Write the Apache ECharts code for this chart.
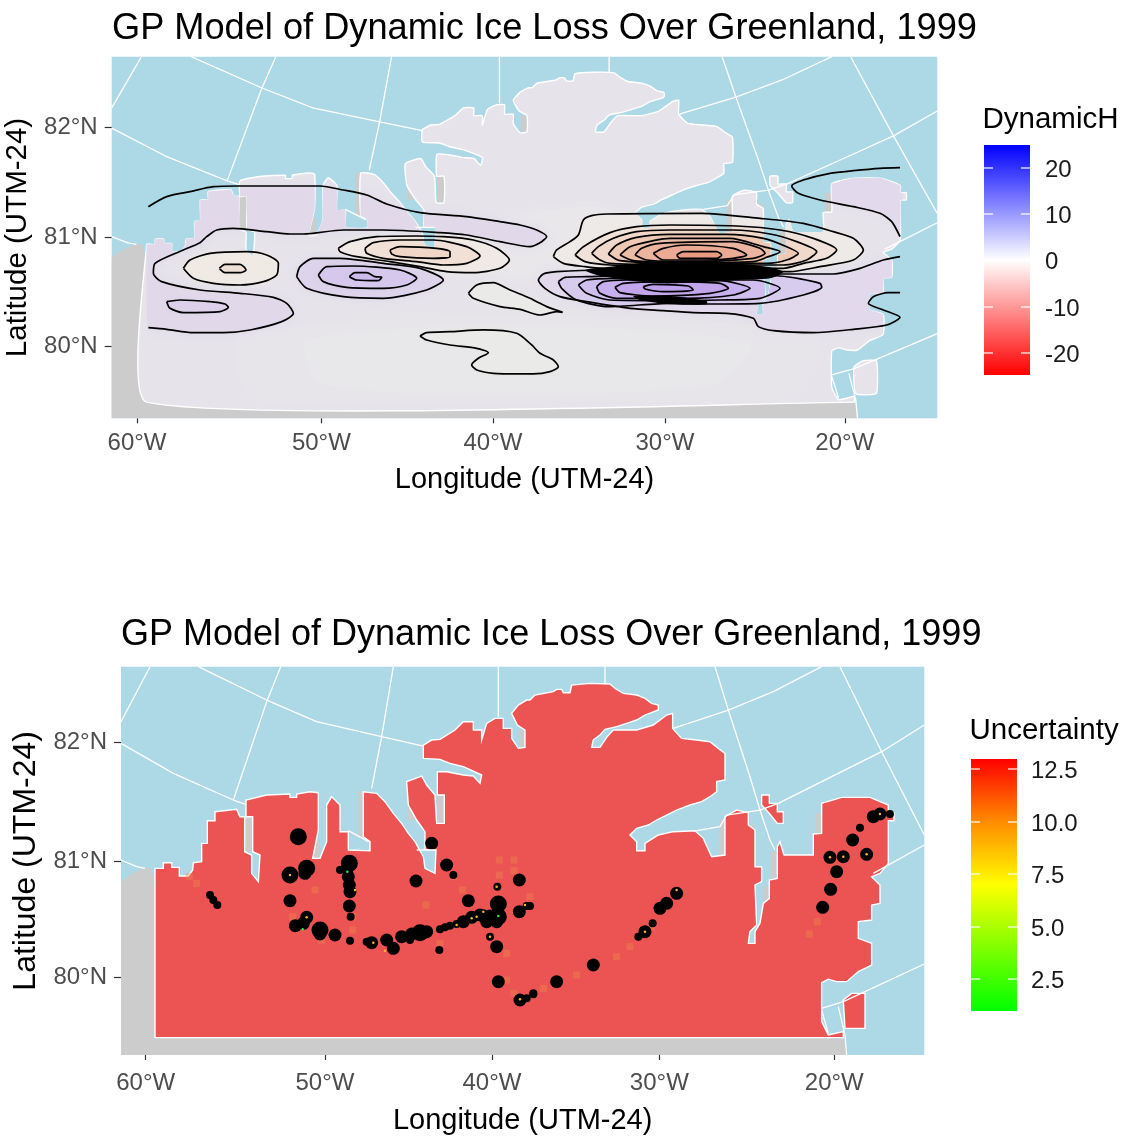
<!DOCTYPE html>
<html><head><meta charset="utf-8">
<style>html,body{margin:0;padding:0;background:#fff}#c{width:1124px;height:1136px}</style>
<script src="https://cdn.jsdelivr.net/npm/echarts@6/dist/echarts.min.js"></script>
</head><body><div id="c"></div>
<script>
// ---------- values (projected map units) ----------
const east = pts => pts.map(([x, y]) => [x + 1260, y]);
const close = pts => pts.concat([pts[0]]);

const titleText = 'GP Model of Dynamic Ice Loss Over Greenland, 1999';
const xTickValues = [107, 645, 1146, 1648, 2173];
const xTickLabels = ['60°W', '50°W', '40°W', '30°W', '20°W'];
const yTickValues = [248, 603, 952];
const yTickLabels = ['82°N', '81°N', '80°N'];
const dynamicLabels = ['20', '10', '0', '-10', '-20'];
const uncertaintyLabels = ['12.5', '10.0', '7.5', '5.0', '2.5'];

const landWest = [[135,1133],[135,625],[160,625],[160,608],[185,608],[185,622],[208,622],[208,648],[235,648],[248,630],[250,608],[275,605],[275,550],[292,550],[292,482],[315,482],[315,455],[380,448],[390,470],[404,470],[404,575],[425,585],[425,640],[445,665],[450,585],[428,575],[428,470],[408,470],[408,420],[470,405],[540,402],[540,412],[560,412],[560,402],[600,395],[625,398],[625,510],[608,595],[630,595],[650,545],[650,435],[665,410],[690,435],[690,515],[715,515],[715,570],[780,572],[780,545],[760,530],[760,395],[800,400],[825,425],[850,460],[875,490],[895,520],[915,545],[940,590],[945,625],[975,640],[978,570],[945,568],[945,515],[920,480],[895,435],[890,365],[935,348],[950,375],[975,405],[980,490],[1003,490],[1003,405],[982,405],[982,335],[1010,335],[1060,345],[1090,348],[1110,370],[1115,345],[1060,320],[1020,310],[990,298],[940,295],[940,255],[965,240],[990,238],[1035,210],[1060,185],[1090,185],[1090,210],[1115,210],[1115,240],[1130,190],[1155,175],[1180,175],[1180,205],[1205,205],[1205,235],[1225,265],[1245,262],[1245,210],[1222,195],[1205,160],[1225,135],[1250,120]];
const landEast = [[0,120],[15,105],[70,95],[80,88],[95,88],[100,98],[120,98],[125,75],[180,70],[240,72],[255,85],[280,100],[320,105],[345,115],[365,130],[385,135],[385,150],[345,165],[320,180],[290,190],[260,200],[225,208],[210,225],[190,240],[185,262],[210,262],[230,232],[250,210],[320,210],[370,195],[410,165],[428,160],[428,205],[455,235],[500,240],[540,245],[565,265],[585,280],[585,360],[560,365],[560,395],[540,410],[515,425],[480,435],[440,450],[410,465],[380,480],[355,495],[320,505],[300,525],[320,545],[320,572],[345,572],[345,550],[385,525],[430,515],[495,512],[520,535],[545,590],[585,585],[585,470],[620,450],[655,458],[655,495],[675,510],[675,620],[695,620],[695,665],[675,675],[680,795],[660,815],[655,850],[675,850],[675,815],[690,790],[700,730],[718,715],[718,660],[742,655],[742,560],[750,545],[762,585],[850,585],[850,522],[875,520],[875,430],[935,412],[1020,412],[1075,435],[1075,458],[1092,458],[1092,482],[1075,482],[1075,610],[1050,640],[1025,650],[1050,675],[1050,730],[1025,735],[1025,780],[985,785],[985,835],[1025,850],[1025,915],[985,935],[950,965],[920,965],[895,958],[875,968],[875,1085],[895,1125],[940,1115],[940,1133]];
const landMain = landWest.concat(east(landEast));
const islandSouth = east([[940,1020],[965,1000],[1005,1000],[1005,1105],[945,1105]]);
const islandSliver = east([[695,405],[718,405],[718,430],[742,430],[742,455],[760,455],[760,490],[742,490],[718,460],[695,435]]);

const greyFrame = [[33,665],[60,645],[105,622],[125,628],[135,690],[135,1133],[2200,1133],[2212,1185],[33,1185]];
const greyStrips = [
  [[404,470],[428,470],[428,575],[404,575]], [[608,540],[628,540],[628,595],[608,595]],
  [[745,395],[760,395],[760,530],[745,530]], [[895,440],[915,440],[915,480],[895,480]],
  [[983,405],[1003,405],[1003,490],[983,490]], [[1228,210],[1245,210],[1245,262],[1228,262]],
  east([[855,460],[875,460],[875,520],[855,520]]), east([[568,480],[585,480],[585,585],[568,585]]),
  east([[722,575],[742,575],[742,655],[722,655]]), east([[700,680],[718,680],[718,740],[700,740]]),
  east([[655,495],[675,495],[675,540],[655,540]])
];

const graticule = [
  [[265,20],[470,120],[620,185],[815,230],[940,258]],
  east([[430,205],[595,150],[730,95],[875,20]]),
  [[33,250],[190,340],[370,420],[405,432]],
  east([[500,512],[570,500],[590,465],[690,450],[745,430],[935,335],[1055,275],[1183,195]]),
  [[33,600],[80,620],[105,625]],
  [[715,512],[775,545]], [[920,570],[975,570]],
  east([[1030,640],[1183,555]]),
  east([[875,1045],[940,1025],[1005,995],[1183,912]]),
  [[120,20],[33,185]],
  [[512,20],[470,125],[370,420]],
  [[850,20],[815,230],[785,385]],
  [[1165,20],[1165,170]],
  east([[225,20],[225,70]]),
  east([[555,20],[595,150],[660,350],[690,450],[720,540],[735,570]]),
  east([[930,20],[1055,275],[1183,525]]),
  east([[925,1040],[945,1125],[950,1185]]),
  east([[875,1050],[895,1120]])
];

// contours of the upper panel
const lineNorthWest = [[145,470],[200,440],[270,425],[340,410],[410,408],[520,408],[660,408],[730,420],[800,435],[860,462],[960,488],[1100,500],[1200,515],[1260,525],[1310,540],[1340,560],[1325,575],[1290,590],[1200,575],[1100,555],[1020,548],[850,540],[730,540],[610,552],[570,552],[500,545],[400,535],[350,540],[320,560],[300,578],[250,600],[165,640],[160,670],[185,695],[300,720],[420,730],[520,742],[560,760],[580,790],[545,815],[450,840],[370,848],[280,848],[200,838],[145,833]];
const lineEastBand = east([[1140,620],[1090,630],[1020,655],[940,672],[790,672],[500,660],[250,660],[110,665],[70,672],[55,690],[75,715],[120,740],[200,755],[330,775],[430,782],[520,788],[620,790],[700,805],[715,830],[760,842],[880,848],[1000,838],[1100,825],[1140,802],[1090,780],[1045,760],[1060,740],[1105,728],[1140,728]]);
const lineNorthEast = east([[1140,353],[1080,355],[1000,362],[930,370],[850,390],[815,408],[835,430],[900,450],[1000,470],[1080,490],[1115,515],[1140,560]]);
const ringWest1 = [[250,655],[270,630],[330,610],[440,605],[500,615],[535,640],[530,675],[490,695],[420,705],[340,700],[280,685]];
const ringWest2 = [[358,655],[375,643],[420,643],[438,660],[420,668],[375,668]];
const ringLowWest = [[200,755],[240,750],[330,755],[375,762],[385,772],[360,785],[250,788],[210,775]];
const ringMidA1 = [[715,595],[750,575],[830,560],[950,558],[1030,560],[1120,570],[1190,595],[1228,630],[1200,655],[1120,668],[1040,665],[960,650],[870,635],[770,620],[720,605]];
const ringMidA2 = [[795,595],[820,578],[900,570],[1000,570],[1100,590],[1140,618],[1100,640],[1030,645],[950,635],[850,625],[800,610]];
const ringMidA3 = [[870,600],[900,590],[1010,595],[1050,605],[1050,620],[1000,625],[900,620],[875,612]];
const ringMidB1 = [[590,680],[600,650],[640,625],[720,625],[850,640],[960,655],[1030,690],[980,720],[850,745],[730,740],[620,715]];
const ringMidB2 = [[655,675],[680,650],[760,648],[900,660],[950,685],[920,705],[850,715],[740,712],[670,695]];
const ringMidB3 = [[748,680],[765,668],[800,668],[825,680],[845,682],[835,692],[770,690]];
const ringPale1 = [[1105,730],[1130,705],[1180,698],[1230,720],[1290,745],[1310,755],[1340,770],[1388,787],[1370,785],[1320,795],[1260,778],[1200,770],[1120,745]];
const ringPale2 = [[960,858],[980,848],[1050,845],[1150,840],[1250,850],[1295,885],[1320,910],[1360,930],[1375,950],[1350,965],[1300,972],[1260,972],[1180,970],[1130,960],[1115,945],[1135,925],[1165,908],[1130,895],[1050,885],[980,870]];
const ringE0 = east([[100,620],[110,600],[150,575],[175,555],[190,510],[215,497],[260,492],[545,490],[720,505],[850,520],[940,545],[1000,565],[1030,600],[1000,630],[900,650],[810,665],[500,660],[250,655],[195,650],[130,640]]);
const ringE1 = east([[165,615],[190,590],[270,548],[350,530],[450,525],[650,528],[780,540],[880,565],[950,600],[920,625],[850,640],[790,655],[500,650],[270,645],[195,635]]);
const ringE2 = east([[215,610],[235,590],[280,565],[350,545],[450,540],[640,540],[750,552],[830,575],[890,605],[860,630],[790,645],[500,645],[270,640],[240,630]]);
const ringE3 = east([[265,612],[290,585],[350,562],[450,553],[620,553],[730,565],[800,590],[835,610],[800,630],[740,640],[500,640],[300,632]]);
const ringE4 = east([[300,615],[330,590],[400,572],[450,565],[630,565],[730,590],[780,605],[740,622],[700,635],[500,638],[340,632]]);
const ringE5 = east([[345,615],[365,595],[420,580],[640,575],[720,595],[735,610],[700,625],[500,635],[380,630]]);
const ringE6 = east([[400,610],[430,595],[500,585],[640,595],[680,615],[640,625],[560,630],[430,630]]);
const ringE7 = east([[470,615],[490,605],[590,605],[605,615],[590,625],[480,625]]);
const ringF1 = east([[115,695],[135,682],[200,680],[500,672],[780,678],[900,700],[905,712],[850,735],[720,760],[560,762],[450,760],[265,770],[170,750],[125,715]]);
const ringF2 = east([[175,705],[200,690],[280,685],[450,690],[700,690],[780,715],[720,745],[600,750],[450,752],[270,750],[200,730]]);
const ringF3 = east([[230,710],[250,695],[320,690],[600,692],[690,715],[640,735],[500,745],[290,745],[240,730]]);
const ringF4 = east([[285,712],[310,700],[440,695],[600,700],[625,715],[570,730],[400,738],[300,728]]);
const ringF5 = east([[370,710],[400,703],[505,708],[520,720],[430,725],[375,717]]);
const denseBand = east([[195,660],[270,650],[400,635],[500,632],[600,635],[740,650],[790,665],[750,685],[650,690],[540,697],[430,700],[320,690],[230,675]]);
const densePatch = east([[340,738],[450,738],[560,753],[560,763],[450,763],[360,750]]);
const neutralOuter = [[420,860],[1300,800],[2150,860],[2050,1060],[1200,1090],[460,1050]];
const neutralCore = [[620,870],[1300,830],[1950,880],[1850,1000],[1200,1030],[660,1000]];
const neutralInland = [[1000,560],[1500,470],[1700,600],[1300,680],[1020,640]];

// sample sites of the lower panel
const sitesHuge = [[540,645],[590,625],[565,530],[718,610],[630,810],[930,818],[1165,732],[1165,770]];
const sitesLarge = [[585,640],[540,722],[712,625],[715,650],[718,675],[720,695],[718,738],[630,822],[675,825],[830,840],[850,865],[905,822],[950,815],[965,550],[1010,615],[918,663],[1075,722],[1160,785],[1228,660],[1228,755],[1160,860],[1165,965],[1230,1020],[1340,965],[1450,915],[1605,815],[1650,745],[1670,730],[1700,700],[2138,742],[2162,688],[2180,635],[2160,592],[2200,590],[2270,583],[2228,540],[2290,470],[2310,462],[1140,768],[1110,765],[1085,772],[1060,785],[1130,785],[580,790],[556,797],[590,772],[785,848],[875,830]];
const sitesSmall = [[300,705],[310,720],[322,735],[690,630],[722,770],[720,842],[770,845],[900,840],[1120,760],[1040,792],[1020,797],[1005,802],[990,808],[1250,738],[1250,1015],[1140,830],[988,870],[1162,680],[1030,645],[1270,1000],[1260,738],[1270,1003],[1585,830],[1628,790],[2250,503],[2340,462]];
const sitesGlow = [[1168,600],[1212,600],[1212,632],[1058,690],[615,690],[948,735],[548,770],[728,810],[728,770],[990,850],[1168,645],[635,840],[1260,710],[238,650],[260,670],[1212,1000],[1190,880],[1400,945],[1520,890],[1560,860],[1625,800],[2122,785],[2098,822],[1300,985],[1030,650],[1190,960]];
const sitesHot = [[1100,770],[1085,775],[1040,795],[1120,755],[735,690],[825,872],[1140,830],[1160,680],[1245,735],[2310,462],[2200,590],[2160,592],[1605,815],[1700,690],[790,848],[590,772],[540,645],[2270,583],[1230,1018]];
const sitesLow = [[1165,768],[712,635],[578,808]];

// ---------- map units of the upper-panel crop to shared map units ----------
const toMap = pts => pts.map(([x, y]) => [33 + 0.973 * (x - 35), 20 + 1.0737 * (y - 20)]);

const zones = [
  [neutralOuter, '#E7E5EA', 30], [neutralCore, '#E8E7E9', 30], [neutralInland, '#E9E7EA', 22],
  [lineNorthWest, '#E1D9EA', 10], [lineEastBand, '#E2DAEC', 10], [lineNorthEast, '#E2DAEC', 6],
  [ringPale1, '#EAEAE9', 5], [ringPale2, '#EAEAE8', 5],
  [ringWest1, '#F0EAE4', 6], [ringWest2, '#EEE0D6', 3], [ringLowWest, '#DCD0EA', 5],
  [ringMidB1, '#DDD3EA', 6], [ringMidB2, '#D6C8EC', 5], [ringMidB3, '#CDBBEC', 3],
  [ringMidA1, '#F0EAE6', 6], [ringMidA2, '#F1E0D6', 5], [ringMidA3, '#F0D6C6', 3],
  [ringE0, '#EEEAE7', 5], [ringE1, '#F0E2DA', 3], [ringE2, '#F0D8CA', 3], [ringE3, '#EEC9B4', 3],
  [ringE4, '#ECBEA8', 3], [ringE5, '#EBB49E', 3], [ringE6, '#EAAA94', 3], [ringE7, '#E99B82', 2],
  [ringF1, '#D8CCEE', 4], [ringF2, '#D0BFEE', 3], [ringF3, '#C8AFEE', 3], [ringF4, '#C3A5EB', 3], [ringF5, '#BFA0EB', 2]
];
const openContours = [lineNorthWest, lineEastBand, lineNorthEast];
const closedContours = [ringWest1, ringWest2, ringLowWest, ringMidA1, ringMidA2, ringMidA3, ringMidB1, ringMidB2, ringMidB3, ringPale1, ringPale2, ringE0, ringE1, ringE2, ringE3, ringE4, ringE5, ringE6, ringE7, ringF1, ringF2, ringF3, ringF4, ringF5];
const filledContours = [denseBand, densePatch];

// ---------- chart ----------
const BLUE = '#ADD8E6', GREY = '#CCCCCC', TICK = '#4D4D4D', FONT = 'Liberation Sans, Arial, sans-serif';
const X_RANGE = [33, 2443], Y_RANGE = [20, 1185];

function xAxis(i, gap, margin) {
  return {
    type: 'value', gridIndex: i, min: X_RANGE[0], max: X_RANGE[1], name: 'Longitude (UTM-24)',
    nameLocation: 'middle', nameGap: gap, nameTextStyle: { fontFamily: FONT, fontSize: 29, color: '#000' },
    axisLine: { show: false }, splitLine: { show: false },
    axisTick: { show: true, length: 5, customValues: xTickValues, lineStyle: { color: '#333', width: 1.2 } },
    axisLabel: { customValues: xTickValues, fontFamily: FONT, fontSize: 24, color: TICK, margin,
      formatter: v => xTickLabels[xTickValues.indexOf(v)] }
  };
}
function yAxis(i, gap, nameSize) {
  return {
    type: 'value', gridIndex: i, min: Y_RANGE[0], max: Y_RANGE[1], inverse: true, name: 'Latitude (UTM-24)',
    nameLocation: 'middle', nameGap: gap, nameRotate: 90, nameTextStyle: { fontFamily: FONT, fontSize: nameSize, color: '#000' },
    axisLine: { show: false }, splitLine: { show: false },
    axisTick: { show: true, length: 7, customValues: yTickValues, lineStyle: { color: '#333', width: 1.2 } },
    axisLabel: { customValues: yTickValues, fontFamily: FONT, fontSize: 24, color: TICK, margin: 14,
      formatter: v => yTickLabels[yTickValues.indexOf(v)] }
  };
}
function polys(panel, rings, styleOf, extra) {
  return {
    type: 'custom', xAxisIndex: panel, yAxisIndex: panel, silent: true, animation: false, clip: true,
    data: rings.map((_, i) => [i]),
    renderItem(params, api) {
      const idx = params.dataIndex, pts = rings[idx].map(p => api.coord(p));
      const el = { type: 'polygon', shape: { points: pts, smooth: (extra && extra.smooth) || 0 }, style: styleOf(idx) };
      if (extra && extra.clipTo) el.clipPath = { type: 'polygon', shape: { points: extra.clipTo.map(p => api.coord(p)) } };
      return el;
    }
  };
}
function lines(panel, rings) {
  return rings.map(r => ({
    type: 'line', xAxisIndex: panel, yAxisIndex: panel, data: r, showSymbol: false, silent: true,
    animation: false, smooth: 0.25, lineStyle: { color: '#000', width: 1.7 }
  }));
}
function graticuleSeries(panel) {
  return graticule.map(g => ({
    type: 'line', xAxisIndex: panel, yAxisIndex: panel, data: g, showSymbol: false, silent: true,
    animation: false, lineStyle: { color: '#fff', width: 1.3 }
  }));
}
function base(panel, color, smooth) {
  return [
    ...graticuleSeries(panel),
    polys(panel, [greyFrame, ...greyStrips], () => ({ fill: GREY })),
    polys(panel, [landMain, islandSouth, islandSliver], () => ({ fill: color, stroke: '#fff', lineWidth: 1.4 }), { smooth })
  ];
}
function scatter(data, symbol, size, color, opacity) {
  return { type: 'scatter', xAxisIndex: 1, yAxisIndex: 1, data, symbol, symbolSize: size, silent: true,
    animation: false, itemStyle: { color, opacity } };
}

const series = [
  ...base(0, '#E6E3EA', 0.15),
  polys(0, zones.map(z => toMap(z[0])), i => ({ fill: zones[i][1], shadowColor: zones[i][1], shadowBlur: zones[i][2] }),
    { clipTo: landMain, smooth: 0.25 }),
  ...lines(0, openContours.map(toMap)),
  ...lines(0, closedContours.map(r => toMap(close(r)))),
  polys(0, filledContours.map(toMap), () => ({ fill: '#000' }), { smooth: 0.25 }),
  ...base(1, '#EC5353', 0),
  scatter(sitesGlow, 'rect', 7, '#EE8B4A', 0.4),
  scatter(sitesHuge, 'circle', 17, '#000', 1),
  scatter(sitesLarge, 'circle', 13, '#000', 1),
  scatter(sitesSmall, 'circle', 8, '#000', 1),
  scatter(sitesHot, 'circle', 2.5, '#F2B632', 1),
  scatter(sitesLow, 'circle', 2.5, '#39E639', 1)
];

function legend(x, top, h, stops, tickYs, labels, title, titleY, labelX) {
  const out = [
    { type: 'text', x: x - 1.5, y: titleY, style: { text: title, fontFamily: FONT, fontSize: 29.5, fill: '#000', textVerticalAlign: 'middle' } },
    { type: 'rect', shape: { x, y: top, width: 46, height: h },
      style: { fill: new echarts.graphic.LinearGradient(0, 0, 0, 1, stops) } }
  ];
  tickYs.forEach((y, i) => {
    out.push({ type: 'rect', shape: { x, y: y - 0.6, width: 9, height: 1.2 }, style: { fill: '#fff' } });
    out.push({ type: 'rect', shape: { x: x + 37, y: y - 0.6, width: 9, height: 1.2 }, style: { fill: '#fff' } });
    out.push({ type: 'text', x: labelX, y: y + 2.5, style: { text: labels[i], fontFamily: FONT, fontSize: 24, fill: '#1a1a1a', textVerticalAlign: 'middle' } });
  });
  return out;
}

const chart = echarts.init(document.getElementById('c'), null, { renderer: 'canvas' });
chart.setOption({
  animation: false,
  backgroundColor: '#fff',
  title: [
    { text: titleText, left: 107, top: 6, textStyle: { fontFamily: FONT, fontSize: 36.2, fontWeight: 'normal', color: '#000' } },
    { text: titleText, left: 116, top: 612, textStyle: { fontFamily: FONT, fontSize: 36, fontWeight: 'normal', color: '#000' } }
  ],
  grid: [
    { left: 111.7, top: 56.7, width: 825.6, height: 361.6, show: true, backgroundColor: BLUE, borderWidth: 0, outerBoundsMode: 'none' },
    { left: 121, top: 666.7, width: 803.3, height: 388.3, show: true, backgroundColor: BLUE, borderWidth: 0, outerBoundsMode: 'none' }
  ],
  xAxis: [xAxis(0, 47, 13), xAxis(1, 51, 16)],
  yAxis: [yAxis(0, 73, 29.5), yAxis(1, 70, 32)],
  series,
  graphic: { elements: [
    ...legend(984, 145, 230, [{ offset: 0, color: '#0000FF' }, { offset: 0.5, color: '#FFFFFF' }, { offset: 1, color: '#FF0000' }],
      [168, 214, 260, 307, 353], dynamicLabels, 'DynamicH', 120, 1045),
    ...legend(971, 759, 252, [{ offset: 0, color: '#FF0000' }, { offset: 0.25, color: '#FF8C00' }, { offset: 0.5, color: '#FFFF00' }, { offset: 1, color: '#00FF00' }],
      [769, 822, 874, 927, 979], uncertaintyLabels, 'Uncertainty', 731, 1031)
  ] }
});
</script></body></html>
